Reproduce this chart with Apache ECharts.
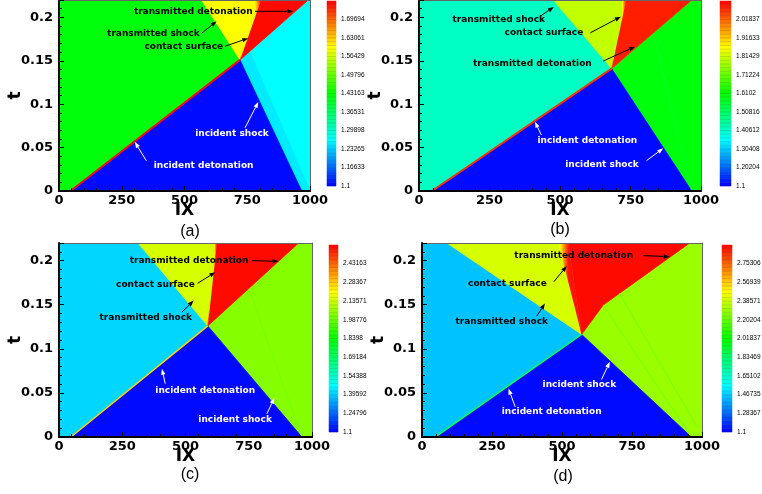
<!DOCTYPE html>
<html>
<head>
<meta charset="utf-8">
<title>Detonation transmission x-t diagrams</title>
<script src="https://cdn.jsdelivr.net/npm/echarts/dist/echarts.min.js"></script>
<style>
html,body{margin:0;padding:0;background:#fff;}
#chart{width:762px;height:494px;}
</style>
</head>
<body>
<div id="chart"></div>
<script>
// ---------- flood legend levels (every 5th of 50 contour levels) ----------
const levelsA = ['1.1','1.16633','1.23265','1.29898','1.36531','1.43163','1.49796','1.56429','1.63061','1.69694'];
const levelsB = ['1.1','1.20204','1.30408','1.40612','1.50816','1.6102','1.71224','1.81429','1.91633','2.01837'];
const levelsC = ['1.1','1.24796','1.39592','1.54388','1.69184','1.8398','1.98776','2.13571','2.28367','2.43163'];
const levelsD = ['1.1','1.28367','1.46735','1.65102','1.83469','2.01837','2.20204','2.38571','2.56939','2.75306'];

// ---------- wave geometry, points as [IX, t] ----------
// incident detonation: ignition point -> triple point
const frontA = [[46, 0], [721, 0.151]];
const frontB = [[46, 0], [683, 0.141]];
const frontC = [[47, 0], [588, 0.126]];
const frontD = [[47, 0], [570, 0.1163]];
// incident shock: triple point -> foot on t = 0
const shockA = [[721, 0.151], [967, 0]];
const shockB = [[683, 0.141], [967, 0]];
const shockC = [[588, 0.126], [960, 0]];
const shockD = [[570, 0.1163], [962, 0]];
// transmitted shock: triple point -> top edge
const tShockA = [[721, 0.151], [568, 0.22]];
const tShockB = [[683, 0.141], [476, 0.22]];
const tShockC = [[588, 0.126], [312, 0.22]];
const tShockD = [[570, 0.1163], [89, 0.22]];
// contact surface: triple point, top edge on shocked side, top edge on burned side
const contactA = [[721, 0.151], [780, 0.22], [805, 0.22]];
const contactB = [[683, 0.141], [718, 0.22], [734, 0.22]];
const contactC = [[588, 0.126], [611, 0.22], [624, 0.22]];
const contactD = [[570, 0.1163], [487, 0.22], [523, 0.22]];
// transmitted detonation: triple point -> kinks -> top edge
const tDetA = [[721, 0.151], [993, 0.22]];
const tDetB = [[683, 0.141], [967, 0.22]];
const tDetC = [[588, 0.126], [947, 0.22]];
const tDetD = [[570, 0.1163], [647, 0.1496], [956, 0.22]];
// weak waves running back through the shocked gas
const streaksA = [];
const streaksB = [[[831, 0.182], [967, 0]]];
const streaksC = [[[750, 0.168], [960, 0]]];
const streaksD = [[[647, 0.1496], [962, 0]], [[705, 0.163], [985, 0.01]]];
// graded zone just behind the incident shock
const fanA = [[721, 0.151], [967, 0], [1000, 0], [760, 0.161]];
const fanB = [], fanC = [], fanD = [];
// states: burned, fresh, shocked, behind transmitted shock, transmitted burned, front peak, fan, weak waves
const statesA = [1.425, 1.1, 1.266, 1.591, 1.757, 1.763, 1.256, 1.266];
const statesB = [1.4265, 1.1, 1.61, 1.804, 2.10, 2.07, 0, 1.56];
const statesC = [1.411, 1.1, 2.043, 2.136, 2.55, 2.28, 0, 1.99];
const statesD = [1.433, 1.1, 2.288, 2.397, 2.90, 1.87, 0, 2.22];

// ---------- annotations: text, label [IX,t], arrow tail [IX,t], arrow tip [IX,t], ink ----------
const notesA = [
  ['transmitted detonation', 535, 0.207, 781, 0.207, 933, 0.207, '#000'],
  ['transmitted shock', 376, 0.1816, 568, 0.1816, 628, 0.1954, '#000'],
  ['contact surface', 497, 0.1667, 661, 0.1667, 754, 0.1759, '#000'],
  ['incident shock', 689, 0.0662, 741, 0.0727, 794, 0.1025, '#fff'],
  ['incident detonation', 576, 0.029, 348, 0.0348, 302, 0.0566, '#fff']
];
const notesB = [
  ['transmitted shock', 283, 0.1977, 428, 0.2008, 478, 0.212, '#000'],
  ['contact surface', 443, 0.1823, 608, 0.1823, 716, 0.2008, '#000'],
  ['transmitted detonation', 402, 0.147, 653, 0.1497, 766, 0.1662, '#000'],
  ['incident detonation', 597, 0.058, 434, 0.0645, 411, 0.0798, '#fff'],
  ['incident shock', 649, 0.0307, 807, 0.035, 866, 0.0491, '#fff']
];
const notesC = [
  ['transmitted detonation', 514, 0.2, 763, 0.2, 868, 0.1992, '#000'],
  ['contact surface', 381, 0.1725, 548, 0.1743, 618, 0.1868, '#000'],
  ['transmitted shock', 343, 0.1358, 486, 0.1415, 532, 0.1547, '#000'],
  ['incident detonation', 578, 0.052, 420, 0.0604, 407, 0.0774, '#fff'],
  ['incident shock', 696, 0.02, 822, 0.0264, 851, 0.0445, '#fff']
];
const notesD = [
  ['transmitted detonation', 542, 0.2057, 790, 0.2057, 885, 0.2045, '#000'],
  ['contact surface', 305, 0.1742, 471, 0.1761, 517, 0.1939, '#000'],
  ['transmitted shock', 285, 0.1307, 410, 0.1371, 439, 0.1515, '#000'],
  ['incident shock', 562, 0.0598, 641, 0.0652, 671, 0.0852, '#fff'],
  ['incident detonation', 463, 0.0284, 333, 0.0341, 309, 0.0549, '#fff']
];

const panels = [
  {tag: '(a)', levels: levelsA, front: frontA, shock: shockA, tShock: tShockA, contact: contactA, tDet: tDetA, streaks: streaksA, fan: fanA, states: statesA, notes: notesA},
  {tag: '(b)', levels: levelsB, front: frontB, shock: shockB, tShock: tShockB, contact: contactB, tDet: tDetB, streaks: streaksB, fan: fanB, states: statesB, notes: notesB},
  {tag: '(c)', levels: levelsC, front: frontC, shock: shockC, tShock: tShockC, contact: contactC, tDet: tDetC, streaks: streaksC, fan: fanC, states: statesC, notes: notesC},
  {tag: '(d)', levels: levelsD, front: frontD, shock: shockD, tShock: tShockD, contact: contactD, tDet: tDetD, streaks: streaksD, fan: fanD, states: statesD, notes: notesD}
];

// ---------- layout ----------
const XMAX = 1000, TMAX = 0.22, NLEV = 50;
const plotBoxes = [[59, 0, 251, 191], [419, 0, 282, 191], [59, 243, 253, 194], [422, 243, 280, 194]];
const barBoxes = [[327, 1, 9, 185], [720, 1, 11, 185], [329, 245, 9, 187], [722, 245, 10, 187]];
const tagSpots = [[190, 232], [560, 230], [190, 475], [563, 477]];
const BOLD = 'DejaVu Sans';

// ---------- colour map (blue-cyan-green-yellow-red, banded) ----------
const RAINBOW = [[0, [0, 0, 255]], [0.25, [0, 255, 255]], [0.5, [0, 255, 0]], [0.75, [255, 255, 0]], [1, [255, 0, 0]]];
function rainbow(f) {
  f = Math.max(0, Math.min(1, f));
  for (let i = 1; i < RAINBOW.length; i++) {
    if (f <= RAINBOW[i][0]) {
      const [f0, c0] = RAINBOW[i - 1], [f1, c1] = RAINBOW[i];
      const u = (f - f0) / (f1 - f0);
      return 'rgb(' + c0.map((c, k) => Math.round(c + (c1[k] - c) * u)).join(',') + ')';
    }
  }
  return 'rgb(255,0,0)';
}
function floodColor(f) {
  const i = Math.max(0, Math.min(NLEV - 1, Math.floor(f * NLEV)));
  return rainbow((i + 0.5) / NLEV);
}
function scaleOf(levels) {
  const lo = +levels[0];
  const step = (+levels[levels.length - 1] - lo) / (levels.length - 1);
  const hi = lo + step * levels.length;
  return v => (v - lo) / (hi - lo);
}

function buildRegions(p) {
  const frac = scaleOf(p.levels);
  const col = v => floodColor(frac(v));
  const [D0, T] = p.front, S = p.shock[1], TS = p.tShock[1];
  const CL = p.contact[1], CR = p.contact[2];
  const TDtop = p.tDet[p.tDet.length - 1];
  const kinks = p.tDet.slice(1, -1).reverse();
  const s = p.states;
  const regs = [
    {pts: [[0, 0], D0, T, TS, [0, TMAX]], color: col(s[0])},
    {pts: [S, [XMAX, 0], [XMAX, TMAX], TDtop].concat(kinks, [T]), color: col(s[2])}
  ];
  if (p.fan.length) regs.push({pts: p.fan, color: col(s[6])});
  regs.push({pts: [D0, S, T], color: col(s[1])});
  regs.push({pts: [T, TS, CL], color: col(s[3])});
  regs.push({pts: [T, CR, TDtop].concat(kinks), color: col(s[4])});
  const f3 = frac(s[3]), f4 = frac(s[4]);
  const stops = [];
  for (let i = 0; i <= 6; i++) stops.push({offset: i / 6, color: rainbow(f3 + (f4 - f3) * i / 6)});
  regs.push({pts: [T, CL, CR], grad: {from: CL, to: CR, stops}});
  return regs;
}

const grid = [], xAxis = [], yAxis = [], series = [], graphic = [];

panels.forEach((p, k) => {
  const frac = scaleOf(p.levels);
  const [l, t, w, h] = plotBoxes[k];
  grid.push({left: l, top: t, width: w, height: h, containLabel: false, outerBoundsMode: 'none'});
  const gi = grid.length - 1;
  const xi = xAxis.length, yi = yAxis.length;
  xAxis.push({
    gridIndex: gi, type: 'value', min: 0, max: XMAX, interval: 250, position: 'bottom', z: 10,
    name: 'IX', nameLocation: 'middle', nameGap: 11, nameMoveOverlap: false,
    nameTextStyle: {fontFamily: BOLD, fontWeight: 'bold', fontSize: 17, color: '#000'},
    axisLine: {show: true, onZero: false, lineStyle: {color: '#000', width: 2}},
    axisTick: {show: true, inside: true, length: 5, lineStyle: {color: '#000', width: 1}},
    minorTick: {show: true, splitNumber: 5, length: 3, lineStyle: {color: '#000', width: 1}},
    axisLabel: {fontFamily: BOLD, fontWeight: 'bold', fontSize: 13, color: '#000', margin: 3, formatter: v => String(v)},
    splitLine: {show: false}
  });
  xAxis.push({
    gridIndex: gi, type: 'value', min: 0, max: XMAX, position: 'top', z: 10,
    axisLine: {show: true, onZero: false, lineStyle: {color: '#666', width: 1}},
    axisTick: {show: false}, axisLabel: {show: false}, splitLine: {show: false}
  });
  yAxis.push({
    gridIndex: gi, type: 'value', min: 0, max: TMAX, interval: 0.05, position: 'left', z: 10,
    name: 't', nameLocation: 'middle', nameGap: 35, nameRotate: 90, nameMoveOverlap: false,
    nameTextStyle: {fontFamily: BOLD, fontWeight: 'bold', fontSize: 17, color: '#000'},
    axisLine: {show: true, onZero: false, lineStyle: {color: '#000', width: 2}},
    axisTick: {show: true, inside: true, length: 5, lineStyle: {color: '#000', width: 1}},
    minorTick: {show: true, splitNumber: 5, length: 3, lineStyle: {color: '#000', width: 1}},
    axisLabel: {
      fontFamily: BOLD, fontWeight: 'bold', fontSize: 13, color: '#000', margin: 6,
      formatter: v => (Math.abs(v * 20 - Math.round(v * 20)) < 1e-6 ? String(Math.round(v * 100) / 100) : '')
    },
    splitLine: {show: false}
  });
  yAxis.push({
    gridIndex: gi, type: 'value', min: 0, max: TMAX, position: 'right', z: 10,
    axisLine: {show: true, onZero: false, lineStyle: {color: '#666', width: 1}},
    axisTick: {show: false}, axisLabel: {show: false}, splitLine: {show: false}
  });

  // flooded regions between the waves
  const regs = buildRegions(p);
  series.push({
    type: 'custom', coordinateSystem: 'cartesian2d', xAxisIndex: xi, yAxisIndex: yi,
    z: 2, silent: true, clip: true, animation: false,
    data: regs.map((r, i) => [0, 0, i]),
    renderItem(params, api) {
      const r = regs[api.value(2)];
      const pts = r.pts.map(q => api.coord(q));
      if (r.grad) {
        const a = api.coord(r.grad.from), b = api.coord(r.grad.to);
        return {type: 'polygon', shape: {points: pts},
          style: {fill: new echarts.graphic.LinearGradient(a[0], a[1], b[0], b[1], r.grad.stops, true)}};
      }
      return {type: 'polygon', shape: {points: pts}, style: {fill: r.color, stroke: r.color, lineWidth: 0.8}};
    }
  });

  // weak waves
  p.streaks.forEach(sk => {
    series.push({
      type: 'line', xAxisIndex: xi, yAxisIndex: yi, data: sk, symbol: 'none', silent: true,
      animation: false, z: 3, lineStyle: {color: floodColor(frac(p.states[7])), width: 1, opacity: 0.7}
    });
  });

  // peak behind the incident detonation front
  series.push({
    type: 'line', xAxisIndex: xi, yAxisIndex: yi, data: p.front, symbol: 'none', silent: true,
    animation: false, z: 3, lineStyle: {color: floodColor(frac(p.states[5])), width: k < 2 ? 2 : 1.6}
  });

  // annotations with arrows
  const notes = p.notes;
  series.push({
    type: 'custom', coordinateSystem: 'cartesian2d', xAxisIndex: xi, yAxisIndex: yi,
    z: 6, silent: true, clip: false, animation: false,
    data: notes.map((n, i) => [0, 0, i]),
    renderItem(params, api) {
      const n = notes[api.value(2)];
      const L = api.coord([n[1], n[2]]), A = api.coord([n[3], n[4]]), B = api.coord([n[5], n[6]]);
      const dx = B[0] - A[0], dy = B[1] - A[1], len = Math.hypot(dx, dy) || 1;
      const ux = dx / len, uy = dy / len, hl = 6, hw = 2.2;
      const base = [B[0] - ux * hl, B[1] - uy * hl];
      return {type: 'group', children: [
        {type: 'line', shape: {x1: A[0], y1: A[1], x2: base[0], y2: base[1]}, style: {stroke: n[7], lineWidth: 1}},
        {type: 'polygon', shape: {points: [B, [base[0] - uy * hw, base[1] + ux * hw], [base[0] + uy * hw, base[1] - ux * hw]]}, style: {fill: n[7]}},
        {type: 'text', x: L[0], y: L[1], style: {text: n[0], fill: n[7], fontFamily: BOLD, fontWeight: 'bold', fontSize: 9, align: 'center', verticalAlign: 'middle'}}
      ]};
    }
  });

  // colour legend
  const [bl, bt, bw, bh] = barBoxes[k];
  grid.push({left: bl, top: bt, width: bw, height: bh, containLabel: false, outerBoundsMode: 'none'});
  const bg = grid.length - 1;
  const bxi = xAxis.length, byi = yAxis.length;
  const span = p.levels.length;
  xAxis.push({gridIndex: bg, type: 'value', min: 0, max: 1, show: false});
  yAxis.push({
    gridIndex: bg, type: 'value', min: 0, max: span, interval: 1, position: 'right',
    axisLine: {show: false}, axisTick: {show: false}, splitLine: {show: false},
    axisLabel: {show: true, margin: 5, fontFamily: 'Liberation Sans', fontSize: 6.5, color: '#000',
      formatter: v => (p.levels[Math.round(v)] !== undefined ? p.levels[Math.round(v)] : '')}
  });
  series.push({
    type: 'custom', coordinateSystem: 'cartesian2d', xAxisIndex: bxi, yAxisIndex: byi,
    z: 2, silent: true, animation: false,
    data: Array.from({length: NLEV}, (_, i) => [0, 0, i]),
    renderItem(params, api) {
      const i = api.value(2);
      const a = api.coord([0, i * span / NLEV]), b = api.coord([1, (i + 1) * span / NLEV]);
      const c = rainbow((i + 0.5) / NLEV);
      return {type: 'group', children: [
        {type: 'rect', shape: {x: a[0], y: b[1], width: b[0] - a[0], height: a[1] - b[1]}, style: {fill: c, stroke: c, lineWidth: 0.5}},
        {type: 'line', shape: {x1: a[0], y1: a[1], x2: b[0], y2: a[1]}, style: {stroke: 'rgba(0,0,0,0.22)', lineWidth: 0.6}}
      ]};
    }
  });

  graphic.push({
    type: 'text', x: tagSpots[k][0], y: tagSpots[k][1], silent: true,
    style: {text: p.tag, fill: '#000', fontFamily: 'Liberation Sans', fontSize: 16, align: 'center', verticalAlign: 'middle'}
  });
});

const chart = echarts.init(document.getElementById('chart'), null, {renderer: 'canvas'});
chart.setOption({
  backgroundColor: '#fff',
  animation: false,
  grid, xAxis, yAxis, series, graphic
});
</script>
</body>
</html>
